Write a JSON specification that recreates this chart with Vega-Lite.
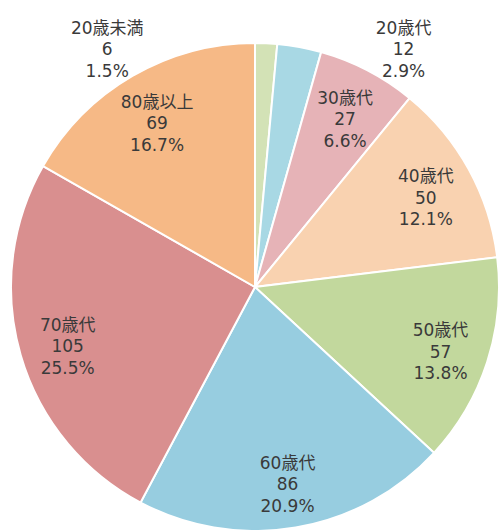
{
  "$schema": "https://vega.github.io/schema/vega-lite/v6.json",
  "width": 486,
  "height": 484,
  "autosize": {"type": "none"},
  "padding": {"left": 12, "top": 45, "right": 1, "bottom": 1},
  "background": "white",
  "view": {"stroke": null},
  "data": {
    "values": [
      {"rank": 1, "name": "20歳未満", "count": 6, "pct": "1.5%"},
      {"rank": 2, "name": "20歳代", "count": 12, "pct": "2.9%"},
      {"rank": 3, "name": "30歳代", "count": 27, "pct": "6.6%"},
      {"rank": 4, "name": "40歳代", "count": 50, "pct": "12.1%"},
      {"rank": 5, "name": "50歳代", "count": 57, "pct": "13.8%"},
      {"rank": 6, "name": "60歳代", "count": 86, "pct": "20.9%"},
      {"rank": 7, "name": "70歳代", "count": 105, "pct": "25.5%"},
      {"rank": 8, "name": "80歳以上", "count": 69, "pct": "16.7%"}
    ]
  },
  "transform": [
    {"calculate": "[datum.name, '' + datum.count, datum.pct]", "as": "label"}
  ],
  "encoding": {
    "theta": {"field": "count", "type": "quantitative", "stack": true},
    "order": {"field": "rank", "type": "quantitative"}
  },
  "layer": [
    {
      "mark": {"type": "arc", "outerRadius": 244, "stroke": "white", "strokeWidth": 2},
      "encoding": {
        "color": {
          "field": "name", "type": "nominal", "legend": null,
          "scale": {
            "domain": ["20歳未満", "20歳代", "30歳代", "40歳代", "50歳代", "60歳代", "70歳代", "80歳以上"],
            "range": ["#d3e2b6", "#a8d8e4", "#e6b3b7", "#f9d2b0", "#c2d89d", "#97cde0", "#d98f8f", "#f6b986"]
          }
        }
      }
    },
    {
      "mark": {"type": "text", "radius": 195, "dy": -15.5, "font": "DejaVu Sans, Noto Sans CJK JP", "fontSize": 17, "lineHeight": 21.5, "color": "#3a3a3a", "align": "center", "baseline": "middle"},
      "encoding": {
        "text": {"condition": {"test": "datum.count >= 20", "field": "label"}, "value": ""}
      }
    },
    {
      "mark": {"type": "text", "radius": 245, "dx": -159, "dy": -13.5, "font": "DejaVu Sans, Noto Sans CJK JP", "fontSize": 17, "lineHeight": 21.5, "color": "#3a3a3a", "align": "center", "baseline": "middle"},
      "encoding": {
        "text": {"condition": {"test": "datum.rank === 1", "field": "label"}, "value": ""}
      }
    },
    {
      "mark": {"type": "text", "radius": 245, "dx": 104, "dy": -17.5, "font": "DejaVu Sans, Noto Sans CJK JP", "fontSize": 17, "lineHeight": 21.5, "color": "#3a3a3a", "align": "center", "baseline": "middle"},
      "encoding": {
        "text": {"condition": {"test": "datum.rank === 2", "field": "label"}, "value": ""}
      }
    }
  ]
}
